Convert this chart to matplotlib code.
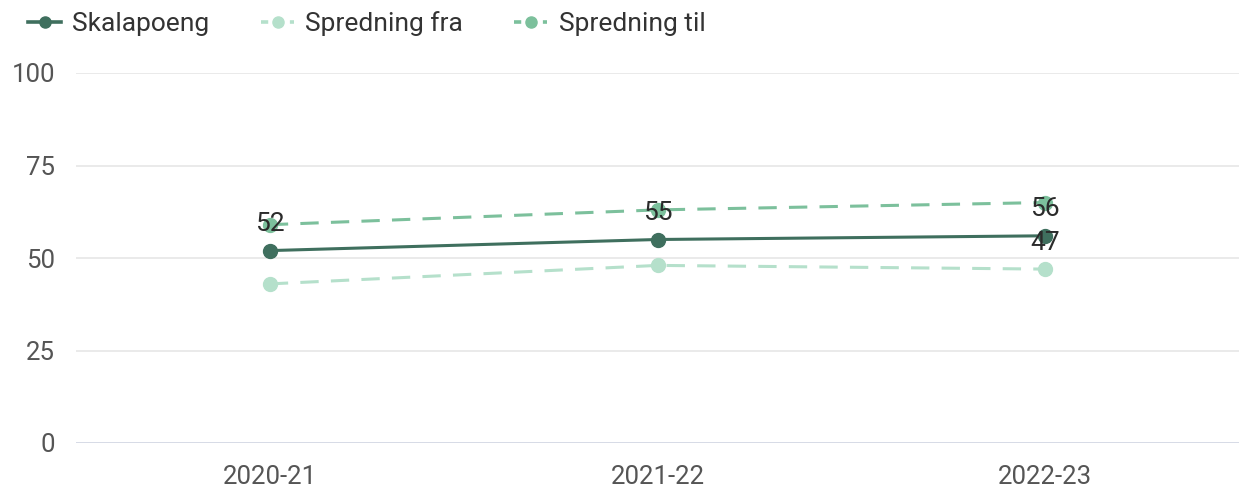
import matplotlib
matplotlib.use("Agg")
import matplotlib.pyplot as plt
from matplotlib.lines import Line2D

plt.rcParams['font.family'] = ['Roboto', 'DejaVu Sans']

categories = ["2020-21", "2021-22", "2022-23"]
skalapoeng = [52, 55, 56]
spredning_fra = [43, 48, 47]
spredning_til = [59, 63, 65]
yticks = [0, 25, 50, 75, 100]

c_skala = "#3f6f5e"
c_fra = "#b5e0cb"
c_til = "#7cc09c"

fig = plt.figure(figsize=(12.39, 4.91), dpi=100)
ax = fig.add_axes([76/1239, (491-443)/491, 1 - 76/1239, (443-73)/491])

x = list(range(len(categories)))
ax.plot(x, spredning_fra, color=c_fra, lw=2.2, ls=(0, (6, 4)), marker='o', ms=10, zorder=3)
ax.plot(x, spredning_til, color=c_til, lw=2.2, ls=(0, (6, 4)), marker='o', ms=10, zorder=3)
ax.plot(x, skalapoeng, color=c_skala, lw=2.2, marker='o', ms=10, zorder=4)

for xi, v in zip(x, skalapoeng):
    ax.annotate(str(v), (xi, v), xytext=(0, 19), textcoords='offset points',
                ha='center', va='center', fontsize=19, color='#2b2b2b', zorder=5)
ax.annotate(str(spredning_fra[-1]), (x[-1], spredning_fra[-1]), xytext=(0, 19),
            textcoords='offset points', ha='center', va='center', fontsize=19,
            color='#2b2b2b', zorder=5)

ax.set_xlim(-0.5, len(categories) - 0.5)
ax.set_ylim(0, 100)
ax.set_xticks(x)
ax.set_xticklabels(categories)
ax.set_yticks(yticks)
ax.tick_params(axis='both', length=0, labelsize=18.5, labelcolor='#555555')
ax.tick_params(axis='y', pad=15)
ax.tick_params(axis='x', pad=16)
for s in ax.spines.values():
    s.set_visible(False)
ax.grid(axis='y', color='#e6e6e6', lw=1.2)
ax.grid(axis='x', visible=False)
ax.axhline(0, color='#d5dae6', lw=2, zorder=2)
ax.set_axisbelow(True)

handles = [
    Line2D([], [], color=c_skala, lw=2.6, marker='o', ms=8),
    Line2D([], [], color=c_fra, lw=2.6, ls=(0, (2, 2)), marker='o', ms=8),
    Line2D([], [], color=c_til, lw=2.6, ls=(0, (2, 2)), marker='o', ms=8),
]
fig.legend(handles, ["Skalapoeng", "Spredning fra", "Spredning til"],
           loc='upper left', bbox_to_anchor=(0.008, 1.015), ncol=3, frameon=False,
           fontsize=19, labelcolor='#333333', handlelength=1.25, handletextpad=0.42,
           columnspacing=1.95, borderaxespad=0.3)

fig.savefig("out.png", dpi=100)
